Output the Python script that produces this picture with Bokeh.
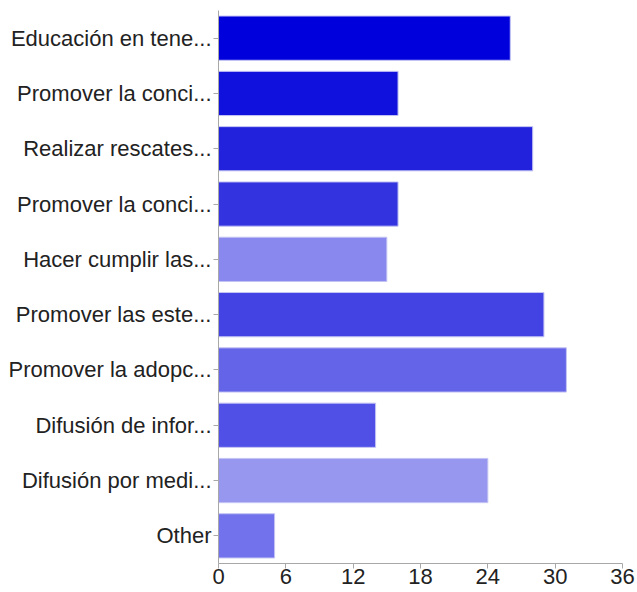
from bokeh.plotting import figure
from bokeh.models import Range1d, FixedTicker, ColumnDataSource
from bokeh.embed import file_html
from bokeh.resources import INLINE

labels = ["Educación en tene...", "Promover la conci...", "Realizar rescates...",
          "Promover la conci...", "Hacer cumplir las...", "Promover las este...",
          "Promover la adopc...", "Difusión de infor...", "Difusión por medi...", "Other"]
values = [26, 16, 28, 16, 15, 29, 31, 14, 24, 5]
colors = ["#0000dd", "#1111dd", "#2222dd", "#3333e0", "#8888ee", "#4343e4",
          "#6464e8", "#5050e6", "#9797f0", "#7272ec"]
x_ticks = [0, 6, 12, 18, 24, 30, 36]

pos = list(range(len(labels)))
src = ColumnDataSource(dict(y=pos, right=values, color=colors))

p = figure(width=637, height=592, output_backend="svg", toolbar_location=None,
           x_range=Range1d(0, 36), y_range=Range1d(len(labels) - 0.5, -0.5),
           min_border_left=218, min_border_right=15, min_border_top=10, min_border_bottom=29)
p.hbar(y="y", right="right", left=0, height=0.8, fill_color="color",
       line_color="#c4c4f4", line_width=1, source=src)

p.outline_line_color = None
p.xgrid.visible = False
p.ygrid.visible = False
p.background_fill_color = "white"
p.border_fill_color = "white"

p.xaxis.ticker = FixedTicker(ticks=x_ticks)
p.yaxis.ticker = FixedTicker(ticks=pos)
p.yaxis.major_label_overrides = {i: l for i, l in zip(pos, labels)}

for ax in (p.xaxis[0], p.yaxis[0]):
    ax.axis_line_color = "#a8a8a8"
    ax.major_tick_line_color = "#a8a8a8"
    ax.minor_tick_line_color = None
    ax.major_tick_in = 0
    ax.major_tick_out = 5
    ax.major_label_text_font = "Liberation Sans"
    ax.major_label_text_font_size = "22px"
    ax.major_label_text_color = "#222222"
p.yaxis[0].major_label_standoff = 2
p.xaxis[0].major_label_standoff = 0

open("out.html", "w").write(file_html(p, INLINE))
